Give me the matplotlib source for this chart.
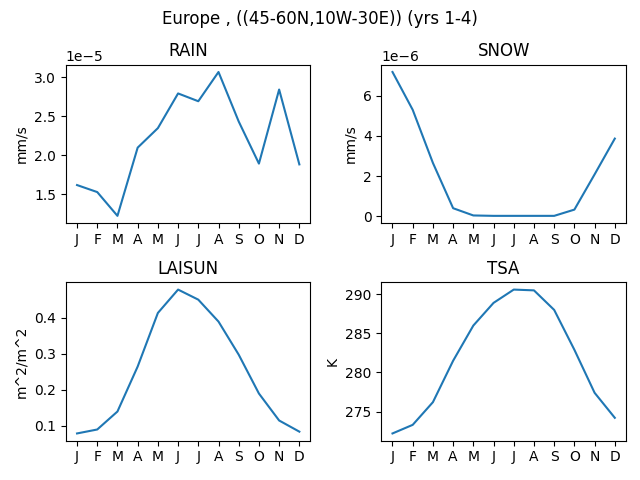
import matplotlib
matplotlib.use('Agg')
import matplotlib.pyplot as plt

months = ['J', 'F', 'M', 'A', 'M', 'J', 'J', 'A', 'S', 'O', 'N', 'D']

rain = [1.615e-5, 1.525e-5, 1.22e-5, 2.095e-5, 2.345e-5, 2.79e-5,
        2.69e-5, 3.065e-5, 2.43e-5, 1.89e-5, 2.84e-5, 1.88e-5]
snow = [7.17e-6, 5.29e-6, 2.65e-6, 0.40e-6, 0.04e-6, 0.02e-6,
        0.02e-6, 0.02e-6, 0.02e-6, 0.33e-6, 2.08e-6, 3.86e-6]
laisun = [0.078, 0.089, 0.139, 0.264, 0.413, 0.478,
          0.450, 0.389, 0.297, 0.189, 0.114, 0.083]
tsa = [272.2, 273.3, 276.2, 281.5, 286.0, 288.9,
       290.6, 290.5, 288.0, 282.9, 277.4, 274.2]

panels = [('RAIN', rain, 'mm/s'),
          ('SNOW', snow, 'mm/s'),
          ('LAISUN', laisun, 'm^2/m^2'),
          ('TSA', tsa, 'K')]

fig, axes = plt.subplots(2, 2, figsize=(6.4, 4.8), dpi=100)
x = range(len(months))
for ax, (name, vals, unit) in zip(axes.flat, panels):
    ax.plot(x, vals)
    ax.set_title(name)
    ax.set_ylabel(unit)
    ax.set_xticks(list(x))
    ax.set_xticklabels(months)

fig.suptitle('Europe , ((45-60N,10W-30E)) (yrs 1-4)')
fig.subplots_adjust(left=0.103, right=0.978, top=0.865, bottom=0.082,
                    wspace=0.29, hspace=0.375)
fig.savefig('out.png')
